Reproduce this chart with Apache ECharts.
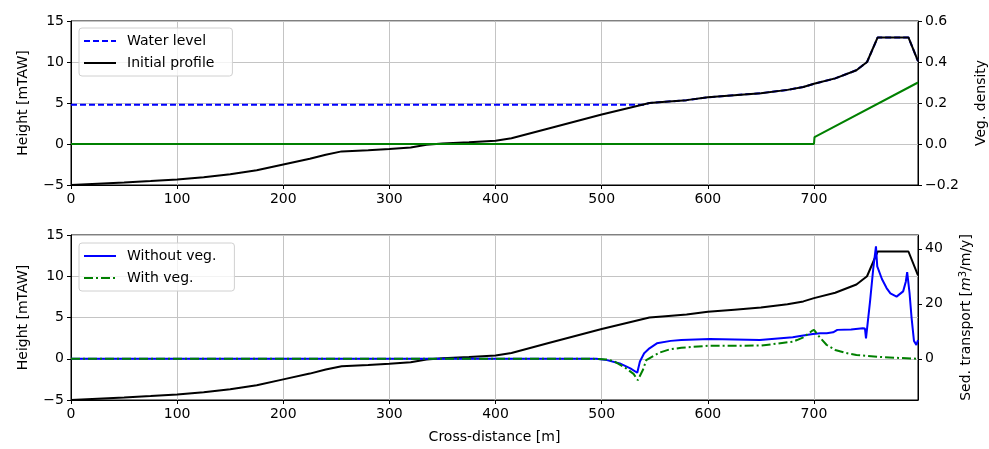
<!DOCTYPE html>
<html>
<head>
<meta charset="utf-8">
<script src="https://cdn.jsdelivr.net/npm/echarts@6/dist/echarts.min.js"></script>
<style>
  html, body { margin: 0; padding: 0; background: #fff; }
  #main { width: 989px; height: 449px; }
</style>
</head>
<body>
<div id="main"></div>
<script>
// bed profile (m, mTAW)
var profileX = [0, 25, 50, 75, 100, 125, 150, 175, 200, 225, 240, 255, 280, 300, 320, 335, 350, 375, 400, 415, 450, 500, 545, 560, 580, 600, 625, 650, 675, 690, 700, 720, 740, 750, 760, 789, 798];
var profileZ = [-5.0, -4.85, -4.7, -4.52, -4.33, -4.05, -3.7, -3.2, -2.5, -1.8, -1.3, -0.9, -0.75, -0.6, -0.42, -0.1, 0.05, 0.2, 0.4, 0.7, 1.9, 3.6, 5.0, 5.15, 5.35, 5.7, 5.95, 6.2, 6.6, 6.95, 7.35, 8.0, 9.0, 10.0, 13.0, 13.0, 10.1];

// water level
var waterX = [0, 540, 545, 560, 580, 600, 625, 650, 675, 690, 700, 720, 740, 750, 760, 789, 798];
var waterZ = [4.8, 4.8, 5.0, 5.15, 5.35, 5.7, 5.95, 6.2, 6.6, 6.95, 7.35, 8.0, 9.0, 10.0, 13.0, 13.0, 10.1];

// vegetation density
var vegX = [0, 700, 700.5, 798];
var vegD = [0, 0, 0.034, 0.30];

// sediment transport without vegetation (m3/m/y)
var noVegX = [0, 495, 505, 517, 527, 533.5, 536, 540, 545, 552, 565, 575, 602, 649, 680, 687, 699, 706, 712, 718, 722, 735, 746, 748, 749, 752.8, 755.9, 758.4, 759.6, 764, 768.4, 772, 777.8, 784, 786.5, 787.8, 790, 792, 794.2, 796.5, 798];
var noVegQ = [0, 0, -0.5, -1.7, -3.5, -5.1, -1.0, 2.0, 3.8, 5.6, 6.5, 6.8, 7.2, 6.8, 7.8, 8.3, 9.0, 9.3, 9.3, 9.6, 10.5, 10.6, 11.1, 11.0, 7.4, 20.8, 33.0, 40.9, 33.6, 29.0, 25.7, 23.8, 22.6, 24.5, 28.0, 31.5, 24.0, 14.7, 6.5, 5.0, 6.8];

// sediment transport with vegetation (m3/m/y)
var vegQX = [0, 490, 505, 511, 523, 530, 534, 539, 542, 548.6, 555, 564, 575, 600, 650, 680, 684, 690, 698, 700, 705, 712, 720, 730, 740, 760, 780, 798];
var vegQ = [0, 0, -0.3, -0.8, -3.5, -5.5, -7.8, -3.9, -0.5, 1.0, 2.3, 3.4, 4.0, 4.7, 4.8, 6.2, 6.8, 7.8, 10.1, 10.5, 8.0, 5.0, 3.2, 2.1, 1.35, 0.7, 0.3, 0.0];

var xTicks = [0, 100, 200, 300, 400, 500, 600, 700];

function pairs(xs, ys) {
  return xs.map(function (x, i) { return [x, ys[i]]; });
}

function minus(s) { return String(s).replace('-', '\u2212'); }

var font = 'DejaVu Sans';
var txt = { color: '#000', fontFamily: font, fontSize: 14 };
var gridLine = { show: true, lineStyle: { color: '#c4c4c4', width: 1 } };
var tick = { show: true, inside: false, length: 4, lineStyle: { color: '#000' } };
var axLine = { show: true, onZero: false, lineStyle: { color: '#000' } };

function xAx(gi, withName) {
  var a = {
    type: 'value', gridIndex: gi, min: 0, max: 798,
    axisLine: axLine, axisTick: Object.assign({ customValues: xTicks }, tick),
    axisLabel: Object.assign({ margin: 7, customValues: xTicks }, txt),
    splitLine: gridLine
  };
  if (withName) {
    a.name = 'Cross-distance [m]';
    a.nameLocation = 'middle';
    a.nameGap = 30;
    a.nameTextStyle = txt;
  }
  return a;
}

function hAx(gi) {
  return {
    type: 'value', gridIndex: gi, position: 'left', min: -5, max: 15, interval: 5,
    name: 'Height [mTAW]', nameLocation: 'middle', nameGap: 41, nameTextStyle: txt,
    axisLine: axLine, axisTick: tick,
    axisLabel: Object.assign({ margin: 7, formatter: minus }, txt),
    splitLine: gridLine
  };
}

function legendBox(names, top) {
  return {
    data: names, orient: 'vertical', left: 79, top: top,
    itemWidth: 32, itemHeight: 14, itemGap: 8, padding: [6, 18, 6, 4],
    itemStyle: { opacity: 0 },
    backgroundColor: 'rgba(255,255,255,0.8)', borderColor: '#d0d0d0', borderWidth: 1, borderRadius: 3,
    textStyle: Object.assign({ padding: [0, 0, 0, 6] }, txt)
  };
}

var chart = echarts.init(document.getElementById('main'));
chart.setOption({
  animation: false,
  backgroundColor: '#fff',
  grid: [
    { left: 71, right: 71, top: 21, height: 164, show: true, borderColor: '#000', borderWidth: 1, containLabel: false, outerBoundsMode: 'none' },
    { left: 71, right: 71, top: 235, height: 165, show: true, borderColor: '#000', borderWidth: 1, containLabel: false, outerBoundsMode: 'none' }
  ],
  xAxis: [xAx(0, false), xAx(1, true)],
  yAxis: [
    hAx(0),
    {
      type: 'value', gridIndex: 0, position: 'right', min: -0.2, max: 0.6, interval: 0.2,
      name: 'Veg. density', nameLocation: 'middle', nameGap: 56, nameTextStyle: txt,
      axisLine: axLine, axisTick: tick,
      axisLabel: Object.assign({ margin: 7, formatter: function (v) { return minus(v.toFixed(1)); } }, txt),
      splitLine: { show: false }
    },
    hAx(1),
    {
      type: 'value', gridIndex: 1, position: 'right', min: -15, max: 45,
      name: 'Sed. transport [{it|m}{sup|3}/m/y]', nameLocation: 'middle', nameGap: 40,
      nameTextStyle: Object.assign({
        rich: {
          it: { fontFamily: font, fontSize: 14, fontStyle: 'italic', color: '#000' },
          sup: { fontFamily: font, fontSize: 10, color: '#000', verticalAlign: 'top', padding: [0, 0, 6, 0] }
        }
      }, txt),
      axisLine: axLine, axisTick: Object.assign({ customValues: [0, 20, 40] }, tick),
      axisLabel: Object.assign({ margin: 7, customValues: [0, 20, 40] }, txt),
      splitLine: { show: false }
    }
  ],
  legend: [
    legendBox(['Water level', 'Initial profile'], 28),
    legendBox(['Without veg.', 'With veg.'], 243)
  ],
  series: [
    {
      name: 'Water level', type: 'line', xAxisIndex: 0, yAxisIndex: 0, symbol: 'none',
      data: pairs(waterX, waterZ), color: '#0000ff',
      lineStyle: { color: '#0000ff', width: 2, type: [6, 3] }
    },
    {
      name: 'Initial profile', type: 'line', xAxisIndex: 0, yAxisIndex: 0, symbol: 'none',
      data: pairs(profileX, profileZ), color: '#000',
      lineStyle: { color: '#000', width: 2 }
    },
    {
      name: 'Veg', type: 'line', xAxisIndex: 0, yAxisIndex: 1, symbol: 'none',
      data: pairs(vegX, vegD), color: '#008000',
      lineStyle: { color: '#008000', width: 2 }
    },
    {
      name: 'Profile2', type: 'line', xAxisIndex: 1, yAxisIndex: 2, symbol: 'none',
      data: pairs(profileX, profileZ), color: '#000',
      lineStyle: { color: '#000', width: 2 }
    },
    {
      name: 'Without veg.', type: 'line', xAxisIndex: 1, yAxisIndex: 3, symbol: 'none',
      data: pairs(noVegX, noVegQ), color: '#0000ff',
      lineStyle: { color: '#0000ff', width: 2 }
    },
    {
      name: 'With veg.', type: 'line', xAxisIndex: 1, yAxisIndex: 3, symbol: 'none',
      data: pairs(vegQX, vegQ), color: '#008000',
      lineStyle: { color: '#008000', width: 2, type: [9, 3, 2, 3] }
    }
  ]
});
</script>
</body>
</html>
